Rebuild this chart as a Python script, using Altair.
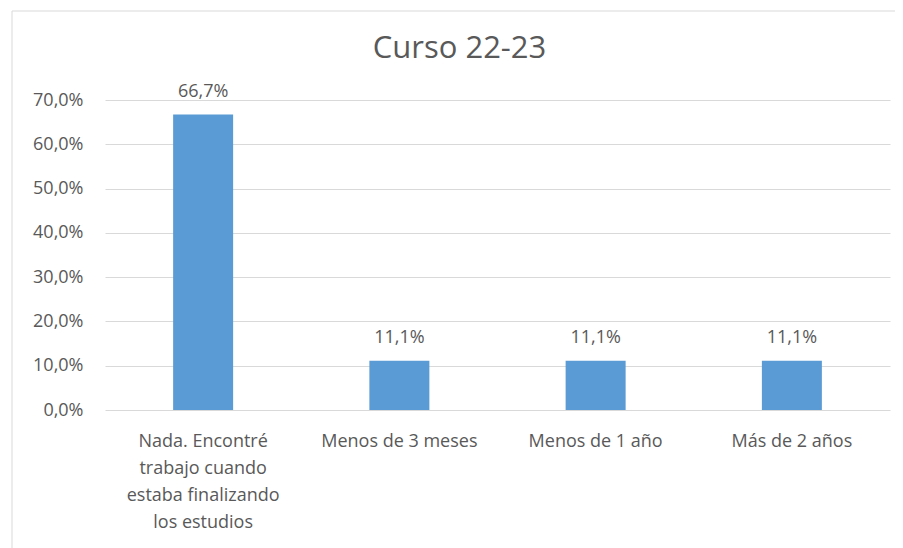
import altair as alt
import pandas as pd

categories = [
    "Nada. Encontré\ntrabajo cuando\nestaba finalizando\nlos estudios",
    "Menos de 3 meses",
    "Menos de 1 año",
    "Más de 2 años",
]
values = [0.667, 0.111, 0.111, 0.111]

df = pd.DataFrame({"cat": categories, "val": values})

FONT = "Open Sans"
TXT = "#595959"
W, H = 785, 310

base = alt.Chart(df)

border = base.mark_rect(filled=False, stroke="#d9d9d9", strokeWidth=1).encode(
    x=alt.value(-93), x2=alt.value(820), y=alt.value(-89), y2=alt.value(470)
).transform_filter("datum.cat == '" + categories[1] + "'")

bars = base.mark_bar(color="#5B9BD5", size=60).encode(
    x=alt.X("cat:N", sort=categories, title=None,
            axis=alt.Axis(labelAngle=0, labelExpr="split(datum.value, '\\n')",
                          labelFont=FONT, labelFontSize=18, labelColor=TXT,
                          labelPadding=22, labelLineHeight=27, ticks=False,
                          domain=False, grid=False)),
    y=alt.Y("val:Q", title=None, scale=alt.Scale(domain=[0, 0.7], nice=False),
            axis=alt.Axis(values=[0, 0.1, 0.2, 0.3, 0.4, 0.5, 0.6, 0.7],
                          labelExpr="replace(format(datum.value, '.1%'), '.', ',')",
                          labelFont=FONT, labelFontSize=18, labelColor=TXT,
                          labelPadding=22, ticks=False, domain=False,
                          grid=True, gridColor="#d9d9d9", gridWidth=1)),
)

labels = base.mark_text(dy=-23, font=FONT, fontSize=18, color=TXT, baseline="middle").encode(
    x=alt.X("cat:N", sort=categories),
    y=alt.Y("val:Q"),
    text=alt.Text("lbl:N"),
).transform_calculate(lbl="replace(format(datum.val, '.1%'), '.', ',')")

chart = alt.layer(border, bars, labels).properties(
    width=W, height=H,
    background="white",
    title=alt.TitleParams("Curso 22-23", font=FONT, fontSize=31, fontWeight="normal",
                          color=TXT, anchor="middle", dx=-38, dy=54, offset=0),
    autosize=alt.AutoSizeParams(type="none"),
    padding={"left": 97, "top": 92, "right": 5, "bottom": 138},
).configure_view(stroke="transparent", strokeWidth=0)

chart.save("out.html", embed_options={"renderer": "svg", "actions": False})
